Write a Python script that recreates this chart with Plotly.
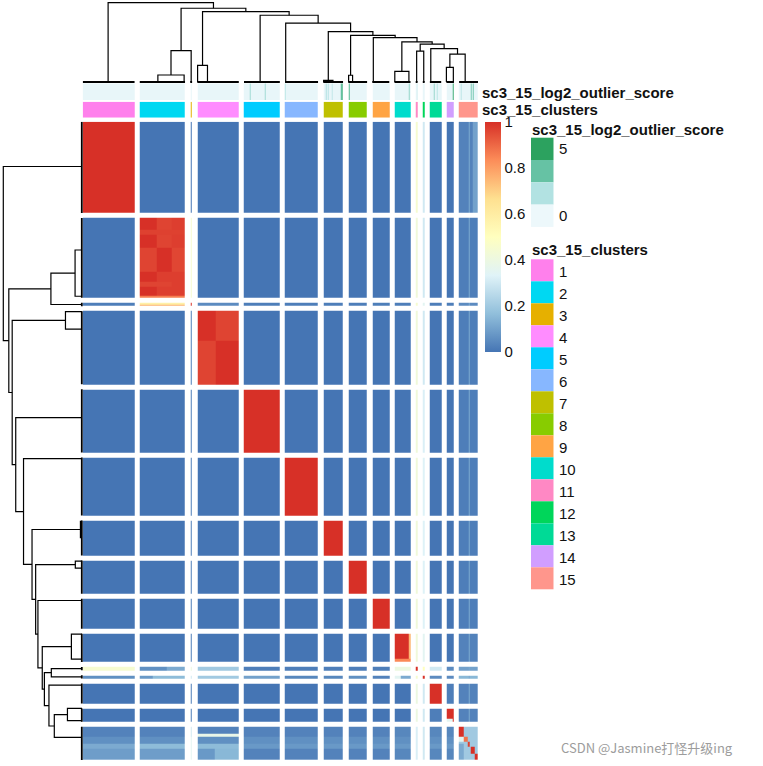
import numpy as np
import plotly.graph_objects as go

W, H = 763, 766

# ---------------- data ----------------
CLUSTER_LABELS = [str(i) for i in range(1, 16)]
CLUSTER_SIZES = [55, 48, 2, 44, 38, 35, 21, 20, 18, 17, 2, 2, 12, 8, 20]
CLUSTER_COLORS = ["#FF80EC", "#00D8F2", "#E6B000", "#FF8CFF", "#00CCFF", "#87B7FF",
                  "#BFC000", "#88CC00", "#FFA444", "#00DCCC", "#FF88C4", "#00D65A",
                  "#00DA96", "#D19EFF", "#FF968C"]

# mean consensus between row cluster (row) and column cluster (col)
BLOCK = [
    [1.00, 0.00, 0.00, 0.00, 0.00, 0.00, 0.00, 0.00, 0.00, 0.00, 0.45, 0.30, 0.00, 0.00, 0.03],
    [0.00, 1.00, 0.45, 0.00, 0.00, 0.00, 0.00, 0.00, 0.00, 0.00, 0.42, 0.30, 0.00, 0.00, 0.02],
    [0.02, 0.60, 1.00, 0.05, 0.02, 0.02, 0.02, 0.02, 0.02, 0.02, 0.45, 0.35, 0.02, 0.02, 0.05],
    [0.00, 0.00, 0.02, 1.00, 0.00, 0.00, 0.00, 0.00, 0.00, 0.00, 0.42, 0.30, 0.00, 0.00, 0.02],
    [0.00, 0.00, 0.02, 0.00, 1.00, 0.00, 0.00, 0.00, 0.00, 0.00, 0.42, 0.32, 0.00, 0.00, 0.02],
    [0.00, 0.00, 0.02, 0.00, 0.00, 1.00, 0.00, 0.00, 0.00, 0.00, 0.42, 0.33, 0.00, 0.00, 0.02],
    [0.00, 0.00, 0.02, 0.00, 0.00, 0.00, 1.00, 0.00, 0.00, 0.00, 0.42, 0.33, 0.00, 0.00, 0.02],
    [0.00, 0.00, 0.02, 0.00, 0.00, 0.00, 0.00, 1.00, 0.00, 0.00, 0.42, 0.33, 0.00, 0.00, 0.02],
    [0.00, 0.00, 0.02, 0.00, 0.00, 0.00, 0.00, 0.00, 1.00, 0.00, 0.42, 0.33, 0.00, 0.00, 0.02],
    [0.00, 0.00, 0.02, 0.00, 0.00, 0.00, 0.00, 0.00, 0.00, 1.00, 0.42, 0.35, 0.00, 0.00, 0.03],
    [0.45, 0.06, 0.40, 0.20, 0.02, 0.02, 0.02, 0.02, 0.02, 0.40, 1.00, 0.50, 0.30, 0.05, 0.10],
    [0.06, 0.16, 0.30, 0.20, 0.10, 0.04, 0.04, 0.06, 0.03, 0.30, 0.45, 1.00, 0.05, 0.05, 0.15],
    [0.00, 0.00, 0.02, 0.00, 0.00, 0.00, 0.00, 0.00, 0.00, 0.00, 0.40, 0.30, 1.00, 0.02, 0.03],
    [0.00, 0.00, 0.02, 0.00, 0.00, 0.00, 0.00, 0.00, 0.00, 0.00, 0.40, 0.30, 0.02, 1.00, 0.03],
    [0.03, 0.03, 0.30, 0.03, 0.03, 0.03, 0.03, 0.03, 0.03, 0.04, 0.32, 0.30, 0.04, 0.04, 1.00],
]

# finer structure: (row clusters, row frac from, to, col clusters, col frac from, to, value)
OTHERS15 = (1, 2, 4, 5, 6, 7, 8, 9, 10, 13, 14)
PATCHES = [
    ((2,), 0.00, 0.37, (2,), 0.38, 0.71, 0.965),
    ((2,), 0.37, 0.66, (2,), 0.00, 0.38, 0.965),
    ((2,), 0.00, 1.00, (2,), 0.71, 1.00, 0.975),
    ((2,), 0.66, 1.00, (2,), 0.38, 0.71, 0.975),
    ((2,), 0.37, 0.66, (2,), 0.71, 1.00, 0.96),
    ((2,), 0.15, 0.20, (2,), 0.00, 1.00, 0.97),
    ((2,), 0.80, 0.85, (2,), 0.00, 0.71, 0.965),
    ((2,), 0.97, 1.00, (2,), 0.00, 1.00, 0.86),
    ((3,), 0.00, 0.50, (2,), 0.00, 1.00, 0.58),
    ((3,), 0.50, 1.00, (2,), 0.00, 1.00, 0.76),
    ((4,), 0.00, 0.42, (4,), 0.43, 1.00, 0.965),
    ((4,), 0.42, 1.00, (4,), 0.00, 0.43, 0.965),
    ((10,), 0.00, 1.00, (10,), 0.88, 1.00, 0.75),
    ((10,), 0.88, 1.00, (10,), 0.00, 1.00, 0.84),
    ((11,), 0.00, 1.00, (2,), 0.60, 1.00, 0.12),
    ((12,), 0.00, 1.00, (2,), 0.00, 0.30, 0.08),
    ((12,), 0.00, 1.00, (10,), 0.00, 0.40, 0.35),
    ((12,), 0.00, 1.00, (10,), 0.40, 1.00, 0.12),
    ((14,), 0.80, 1.00, (14,), 0.00, 0.85, 0.35),
    ((15,), 0.00, 1.00, (15,), 0.00, 1.00, 0.20),
    ((15,), 0.48, 1.00, (15,), 0.00, 0.25, 0.12),
    ((15,), 0.00, 0.28, (15,), 0.00, 0.27, 1.00),
    ((15,), 0.28, 0.45, (15,), 0.00, 0.27, 0.35),
    ((15,), 0.28, 0.45, (15,), 0.27, 0.45, 0.88),
    ((15,), 0.43, 0.58, (15,), 0.45, 0.56, 0.97),
    ((15,), 0.58, 0.82, (15,), 0.62, 0.80, 1.00),
    ((15,), 0.80, 1.00, (15,), 0.80, 1.00, 1.00),
    ((15,), 0.28, 0.48, OTHERS15, 0.00, 1.00, 0.06),
    ((15,), 0.48, 0.64, (1,), 0.00, 1.00, 0.12),
    ((15,), 0.48, 0.64, (2, 4), 0.00, 1.00, 0.16),
    ((15,), 0.48, 0.64, (5, 6, 7, 8, 9, 10, 13, 14), 0.00, 1.00, 0.08),
    ((15,), 0.64, 1.00, (1, 2), 0.00, 1.00, 0.09),
    ((15,), 0.64, 1.00, (4,), 0.00, 0.40, 0.08),
    ((15,), 0.64, 1.00, (4,), 0.40, 1.00, 0.15),
    ((15,), 0.22, 0.28, (4,), 0.00, 1.00, 0.38),
    ((15,), 0.28, 1.00, (3,), 0.00, 1.00, 0.35),
    (tuple(range(1, 15)), 0.00, 1.00, (15,), 0.50, 0.55, 0.12),
    ((1,), 0.00, 1.00, (15,), 0.70, 1.00, 0.10),
]

# outlier score: (cluster, cell index inside cluster, log2 outlier score)
OUTLIER_BASE = 0.15
OUTLIER_CELLS = [(5, 6, 2.0), (5, 22, 2.0), (6, 0, 1.4), (7, 3, 1.7), (7, 5, 1.5),
                 (7, 9, 1.2), (7, 19, 3.2), (7, 20, 4.0), (8, 1, 3.8), (10, 15, 2.3),
                 (11, 1, 0.6), (13, 4, 2.2), (13, 7, 1.4), (14, 7, 4.4), (15, 2, 1.3),
                 (15, 12, 2.8), (15, 14, 3.0)]
OUTLIER_COLORS = ["#EDF8FB", "#B2E2E2", "#66C2A4", "#2CA25F"]
OUTLIER_LEGEND_LABELS = ["5", "", "", "0"]

CONSENSUS_COLORS = ["#4575B4", "#91BFDB", "#E0F3F8", "#FFFFBF", "#FEE090", "#FC8D59", "#D73027"]
CONSENSUS_TICKS = [0, 0.2, 0.4, 0.6, 0.8, 1]
CONSENSUS_TICKTEXT = ["0", "0.2", "0.4", "0.6", "0.8", "1"]

# dendrogram (same tree for rows and columns)
LEAF_ANCHOR = [0.49, 0.70, 0.50, 0.13, 0.45, 0.02, 0.25, 0.12, 0.06, 0.46, 0.50, 0.50, 0.08, 0.46, 0.32]
SUBNODES = {2: (0.40, 0.98, 0.088), 4: (0.007, 0.245, 0.21), 7: (0.02, 0.49, 0.02),
            8: (0.02, 0.23, 0.085), 10: (0.02, 0.90, 0.135), 14: (0.0, 0.92, 0.185)}
MERGES = [("C14", "C15", 0.352), ("C13", "M1", 0.42), ("C11", "C12", 0.39),
          ("M3", "M2", 0.478), ("C10", "M4", 0.505), ("C9", "M5", 0.56),
          ("C8", "M6", 0.589), ("C7", "M7", 0.635), ("C6", "M8", 0.743),
          ("C5", "M9", 0.842), ("C4", "M10", 0.887), ("C2", "C3", 0.395),
          ("M12", "M11", 0.93), ("C1", "M13", 1.0)]

# ---------------- layout geometry (pixels) ----------------
HM_X0, HM_X1 = 82.7, 478.0
HM_Y0, HM_Y1 = 121.7, 760.0
GAP_X, GAP_Y = 5.2, 5.0

def px(x):
    return x / W

def py(y):
    return 1 - y / H

sizes = np.array(CLUSTER_SIZES)
ncl = len(sizes)
n_cells = int(sizes.sum())
cell_cl = np.repeat(np.arange(ncl), sizes)
cell_frac = np.concatenate([(np.arange(s) + 0.5) / s for s in sizes])

M = np.array(BLOCK, dtype=float)[cell_cl][:, cell_cl]
for rcl, r0, r1, ccl, c0, c1, v in PATCHES:
    rm = np.isin(cell_cl, np.array(rcl) - 1) & (cell_frac >= r0) & (cell_frac < r1)
    cm = np.isin(cell_cl, np.array(ccl) - 1) & (cell_frac >= c0) & (cell_frac < c1)
    M[np.ix_(rm, cm)] = v


def build_edges(gap):
    e = [0.0]
    is_gap = []
    starts = []
    for k, s in enumerate(sizes):
        starts.append(e[-1])
        for _ in range(s):
            e.append(e[-1] + 1)
            is_gap.append(False)
        if k < ncl - 1:
            e.append(e[-1] + gap)
            is_gap.append(True)
    return np.array(e), np.array(is_gap), np.array(starts)


gx = GAP_X * n_cells / ((HM_X1 - HM_X0) - (ncl - 1) * GAP_X)
gy = GAP_Y * n_cells / ((HM_Y1 - HM_Y0) - (ncl - 1) * GAP_Y)
xe, xgap, xstart = build_edges(gx)
ye, ygap, ystart = build_edges(gy)

Z = np.full((len(ygap), len(xgap)), np.nan)
Z[np.ix_(~ygap, ~xgap)] = M
z_main = [[None if np.isnan(v) else round(float(v), 3) for v in row] for row in Z]

# annotation rows
clus_row = []
out_row = []
out_vals = np.full(n_cells, OUTLIER_BASE)
cum = np.concatenate([[0], np.cumsum(sizes)])
for c, idx, v in OUTLIER_CELLS:
    out_vals[cum[c - 1] + idx] = v
j = 0
for g in xgap:
    if g:
        clus_row.append(None)
        out_row.append(None)
    else:
        clus_row.append(int(cell_cl[j]) + 1)
        out_row.append(float(out_vals[j]))
        j += 1

cons_scale = [[i / (len(CONSENSUS_COLORS) - 1), c] for i, c in enumerate(CONSENSUS_COLORS)]
clus_scale = []
for i, c in enumerate(CLUSTER_COLORS):
    clus_scale.append([i / ncl, c])
    clus_scale.append([(i + 1) / ncl, c])
out_scale = [[i / (len(OUTLIER_COLORS) - 1), c] for i, c in enumerate(OUTLIER_COLORS)]

FONT = "Liberation Sans, Arial, sans-serif"

fig = go.Figure()
fig.add_trace(go.Heatmap(
    z=z_main, x=xe, y=ye, colorscale=cons_scale, zmin=0, zmax=1,
    hoverinfo="skip", xaxis="x", yaxis="y",
    colorbar=dict(x=px(485), xanchor="left", y=py(HM_Y0), yanchor="top",
                  len=230, lenmode="pixels", thickness=16, thicknessmode="pixels",
                  outlinewidth=0, xpad=0, ypad=0, ticks="",
                  tickvals=CONSENSUS_TICKS, ticktext=CONSENSUS_TICKTEXT,
                  tickfont=dict(family=FONT, size=15, color="#111"))))
fig.add_trace(go.Heatmap(
    z=[clus_row], x=xe, y=[0, 1], colorscale=clus_scale, zmin=0.5, zmax=ncl + 0.5,
    showscale=False, hoverinfo="skip", xaxis="x", yaxis="y2"))
fig.add_trace(go.Heatmap(
    z=[out_row], x=xe, y=[0, 1], colorscale=out_scale, zmin=0, zmax=5,
    showscale=False, hoverinfo="skip", xaxis="x", yaxis="y3"))


# ---------------- dendrograms ----------------
def dendro_segments(starts):
    pos = {}
    thin_a, thin_b = [], []
    base_a, base_b = [], []
    for k in range(ncl):
        s0 = starts[k]
        s1 = s0 + sizes[k]
        base_a += [s0, s1, None]
        base_b += [0.0, 0.0, None]
        name = "C%d" % (k + 1)
        if (k + 1) in SUBNODES:
            lf, rf, h = SUBNODES[k + 1]
            a = s0 + lf * sizes[k]
            b = s0 + rf * sizes[k]
            thin_a += [a, a, b, b, None]
            thin_b += [0.0, h, h, 0.0, None]
            pos[name] = ((a + b) / 2, h)
        else:
            pos[name] = (s0 + LEAF_ANCHOR[k] * sizes[k], 0.0)
    for i, (l, r, h) in enumerate(MERGES):
        la, lh = pos[l]
        ra, rh = pos[r]
        thin_a += [la, la, ra, ra, None]
        thin_b += [lh, h, h, rh, None]
        pos["M%d" % (i + 1)] = ((la + ra) / 2, h)
    return thin_a, thin_b, base_a, base_b


ta, tb, ba, bb = dendro_segments(xstart)
fig.add_trace(go.Scatter(x=ta, y=tb, mode="lines", line=dict(color="black", width=1.2),
                         hoverinfo="skip", xaxis="x", yaxis="y4"))
fig.add_trace(go.Scatter(x=ba, y=bb, mode="lines", line=dict(color="black", width=2.2),
                         hoverinfo="skip", xaxis="x", yaxis="y4"))
ta, tb, ba, bb = dendro_segments(ystart)
fig.add_trace(go.Scatter(x=tb, y=ta, mode="lines", line=dict(color="black", width=1.2),
                         hoverinfo="skip", xaxis="x2", yaxis="y"))
fig.add_trace(go.Scatter(x=bb, y=ba, mode="lines", line=dict(color="black", width=2.2),
                         hoverinfo="skip", xaxis="x2", yaxis="y"))

# ---------------- axes ----------------
hid = dict(visible=False, showgrid=False, zeroline=False, fixedrange=True)
top_sc = 82.0 - 2.7
left_sc = 82.0 - 3.3
fig.update_layout(
    width=W, height=H, margin=dict(l=0, r=0, t=0, b=0),
    paper_bgcolor="white", plot_bgcolor="rgba(0,0,0,0)", showlegend=False,
    xaxis=dict(domain=[px(HM_X0), px(HM_X1)], range=[0, xe[-1]], anchor="y", **hid),
    yaxis=dict(domain=[py(HM_Y1), py(HM_Y0)], range=[ye[-1], 0], anchor="x", **hid),
    yaxis2=dict(domain=[py(117.7), py(101.7)], range=[0, 1], anchor="x", **hid),
    yaxis3=dict(domain=[py(100.0), py(83.3)], range=[0, 1], anchor="x", **hid),
    yaxis4=dict(domain=[py(83.0), py(1.0)],
                range=[(82.0 - 83.0) / top_sc, (82.0 - 1.0) / top_sc], anchor="x", **hid),
    xaxis2=dict(domain=[px(1.0), px(HM_X0)],
                range=[(82.0 - 1.0) / left_sc, (82.0 - HM_X0) / left_sc], anchor="y", **hid),
)

# ---------------- legends (text + boxes) ----------------
ann = []
shapes = []


def text(x, y, s, bold=False, size=15, color="#111", family=FONT):
    ann.append(dict(x=px(x), y=py(y), xref="paper", yref="paper", xanchor="left",
                    yanchor="middle", showarrow=False,
                    text=("<b>%s</b>" % s) if bold else s,
                    font=dict(family=family, size=size, color=color)))


text(480, 92.5, "sc3_15_log2_outlier_score", bold=True)
text(480, 110.0, "sc3_15_clusters", bold=True)
text(530, 129, "sc3_15_log2_outlier_score", bold=True)

box_h = 22.3
for i, c in enumerate(reversed(OUTLIER_COLORS)):
    y0 = 137.7 + i * box_h
    shapes.append(dict(type="rect", xref="paper", yref="paper", x0=px(531), x1=px(553.5),
                       y0=py(y0 + box_h), y1=py(y0), fillcolor=c, line=dict(width=0)))
    if OUTLIER_LEGEND_LABELS[i]:
        text(557, y0 + box_h / 2, OUTLIER_LEGEND_LABELS[i])

text(530, 249, "sc3_15_clusters", bold=True)
cb_h = 22.0
for i, (lab, c) in enumerate(zip(CLUSTER_LABELS, CLUSTER_COLORS)):
    y0 = 259.3 + i * cb_h
    shapes.append(dict(type="rect", xref="paper", yref="paper", x0=px(531), x1=px(553.5),
                       y0=py(y0 + cb_h), y1=py(y0), fillcolor=c, line=dict(width=0)))
    text(557, y0 + cb_h / 2 + 1, lab)

text(559, 747, "CSDN @Jasmine打怪升级ing", size=13, color="#9c9c9c",
     family="Noto Sans CJK SC, sans-serif")

fig.update_layout(annotations=ann, shapes=shapes)
fig.write_html("out.html", config={"displayModeBar": False},
               post_script="document.body.style.margin='0px';document.body.style.padding='0px';")
